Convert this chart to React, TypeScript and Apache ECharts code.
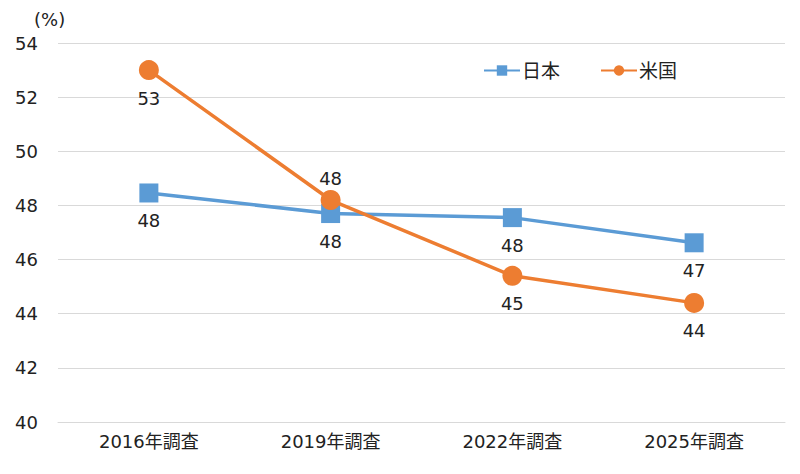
import React, { useEffect, useRef } from "react";
import * as echarts from "echarts";

const categories = ["2016年調査", "2019年調査", "2022年調査", "2025年調査"];
const japanValues = [48.46, 47.7, 47.55, 46.62];
const usValues = [53.0, 48.2, 45.4, 44.4];
const usLabelPositions = ["bottom", "top", "bottom", "bottom"];
const yTicks = { min: 40, max: 54, interval: 2 };

const FONT = "'DejaVu Sans', 'Noto Sans CJK JP', sans-serif";
const TEXT = "#222222";

const App = () => {
  const chartRef = useRef<HTMLDivElement>(null);

  useEffect(() => {
    if (!chartRef.current) return;
    const chart = echarts.init(chartRef.current, undefined, { renderer: "svg" });

    const labelStyle = {
      show: true,
      color: TEXT,
      fontSize: 18,
      fontFamily: FONT,
      formatter: (p: any) => String(Math.round(p.value)),
    };

    const option: echarts.EChartsCoreOption = {
      animation: false,
      textStyle: { fontFamily: FONT },
      grid: { left: 58, right: 15, top: 43, bottom: 52, containLabel: false },
      legend: {
        left: 478,
        top: 56,
        itemWidth: 36,
        itemHeight: 13,
        itemGap: 40,
        textStyle: { color: TEXT, fontSize: 19, fontFamily: FONT, padding: [0, 0, 0, -3] },
        data: ["日本", "米国"],
      },
      graphic: [
        {
          type: "text",
          left: 34,
          top: 10,
          style: { text: "(%)", fill: TEXT, fontSize: 18, fontFamily: FONT },
        },
      ],
      xAxis: {
        type: "category",
        data: categories,
        boundaryGap: true,
        axisLine: { show: true, lineStyle: { color: "#d9d9d9" } },
        axisTick: { show: false },
        axisLabel: { color: TEXT, fontSize: 18, fontFamily: FONT, margin: 10 },
      },
      yAxis: {
        type: "value",
        min: yTicks.min,
        max: yTicks.max,
        interval: yTicks.interval,
        axisLine: { show: false },
        axisTick: { show: false },
        splitLine: { lineStyle: { color: "#d9d9d9", width: 1 } },
        axisLabel: { color: TEXT, fontSize: 18, fontFamily: FONT, margin: 20 },
      },
      series: [
        {
          name: "日本",
          type: "line",
          data: japanValues,
          symbol: "rect",
          symbolSize: 19,
          itemStyle: { color: "#5B9BD5" },
          lineStyle: { color: "#5B9BD5", width: 3.5 },
          label: { ...labelStyle, position: "bottom", distance: 9 },
          z: 2,
        },
        {
          name: "米国",
          type: "line",
          data: usValues.map((v, i) => ({
            value: v,
            label: {
              position: usLabelPositions[i],
              distance: usLabelPositions[i] === "top" ? 3 : 9,
            },
          })),
          symbol: "circle",
          symbolSize: 20,
          itemStyle: { color: "#ED7D31" },
          lineStyle: { color: "#ED7D31", width: 3.5 },
          label: { ...labelStyle },
          z: 3,
        },
      ],
    };

    chart.setOption(option);
    return () => {
      chart.dispose();
    };
  }, []);

  return (
    <div
      ref={chartRef}
      style={{ position: "absolute", left: 0, top: 0, width: 800, height: 474 }}
    />
  );
};

export default App;
